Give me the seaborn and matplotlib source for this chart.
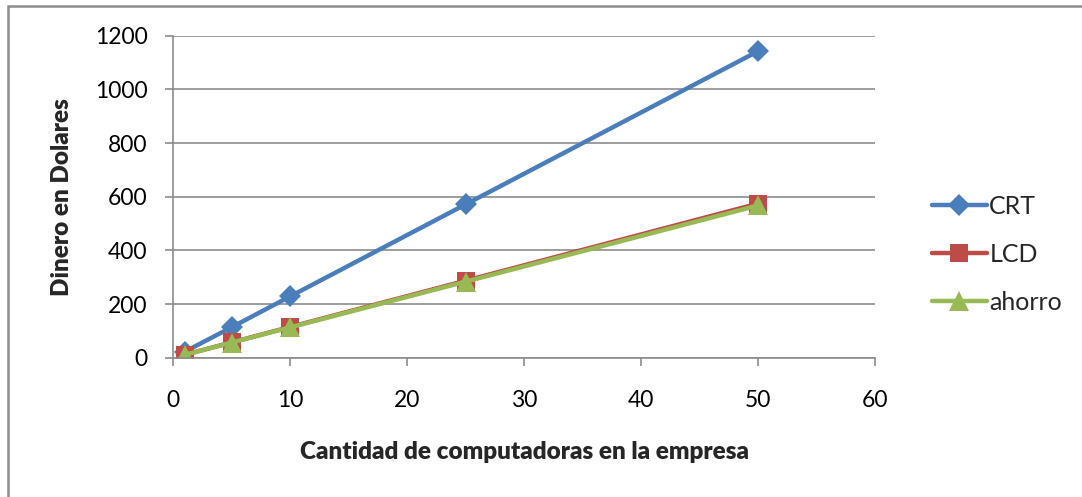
import matplotlib
matplotlib.use("Agg")
import matplotlib.pyplot as plt
import seaborn as sns
import pandas as pd
from matplotlib.patches import Rectangle

# Number of computers in the company
computadoras = [1, 5, 10, 25, 50]

# Yearly cost in dollars per monitor type, and the saving
crt = [23, 114, 229, 572, 1143]
lcd = [11.5, 57.5, 115, 287.5, 575]
ahorro = [11.4, 56.8, 113.6, 284, 568]

series_names = ["CRT", "LCD", "ahorro"]
x_ticks = [0, 10, 20, 30, 40, 50, 60]
y_ticks = [0, 200, 400, 600, 800, 1000, 1200]

df = pd.DataFrame({
    "computadoras": computadoras * 3,
    "dinero": crt + lcd + ahorro,
    "serie": sum([[n] * len(computadoras) for n in series_names], []),
})

sns.set_theme(style="white")
plt.rcParams["font.family"] = ["Lato", "DejaVu Sans"]

colors = {"CRT": "#4A7EBB", "LCD": "#BE4B48", "ahorro": "#98B954"}
markers = {"CRT": "D", "LCD": "s", "ahorro": "^"}
msizes = {"CRT": 11, "LCD": 13, "ahorro": 14}

fig = plt.figure(figsize=(10.82, 4.97), dpi=100)
ax = fig.add_axes([0.160, 0.280, 0.649, 0.648])

for name in series_names:
    sub = df[df["serie"] == name]
    sns.lineplot(data=sub, x="computadoras", y="dinero", ax=ax,
                 color=colors[name], marker=markers[name],
                 markersize=msizes[name], markeredgewidth=0,
                 linewidth=3.2, label=name, legend=False)

ax.set_xlim(0, 60)
ax.set_ylim(0, 1200)
ax.set_xticks(x_ticks)
ax.set_yticks(y_ticks)
ax.yaxis.grid(True, color="#8C8C8C", linewidth=1.2)
ax.xaxis.grid(False)
for side in ["top", "right"]:
    ax.spines[side].set_visible(False)
for side in ["left", "bottom"]:
    ax.spines[side].set_color("#8C8C8C")
    ax.spines[side].set_linewidth(1.2)
ax.tick_params(axis="both", which="both", direction="out", length=6,
               width=1.2, color="#8C8C8C", labelsize=16.5, labelcolor="black",
               left=True, bottom=True)
ax.tick_params(axis="y", pad=12.5)
ax.tick_params(axis="x", pad=17)

ax.set_xlabel("Cantidad de computadoras en la empresa", fontsize=17.5,
              fontweight="heavy", labelpad=22)
ax.set_ylabel("Dinero en Dolares", fontsize=17.5, fontweight="heavy",
              labelpad=15.5)

handles, labels = ax.get_legend_handles_labels()
fig.legend(handles, labels, loc="center left",
           bbox_to_anchor=(0.852, 0.488), frameon=False, fontsize=18,
           handlelength=2.2, handletextpad=0.1, labelspacing=1.0,
           borderaxespad=0)

# outer chart frame
fig.patches.append(Rectangle((8 / 1082, -0.1), 1.2, 1.1 - 6 / 497,
                             transform=fig.transFigure, fill=False,
                             edgecolor="#8C8C8C", linewidth=1.8))

fig.savefig("out.png", dpi=100, facecolor="white")
